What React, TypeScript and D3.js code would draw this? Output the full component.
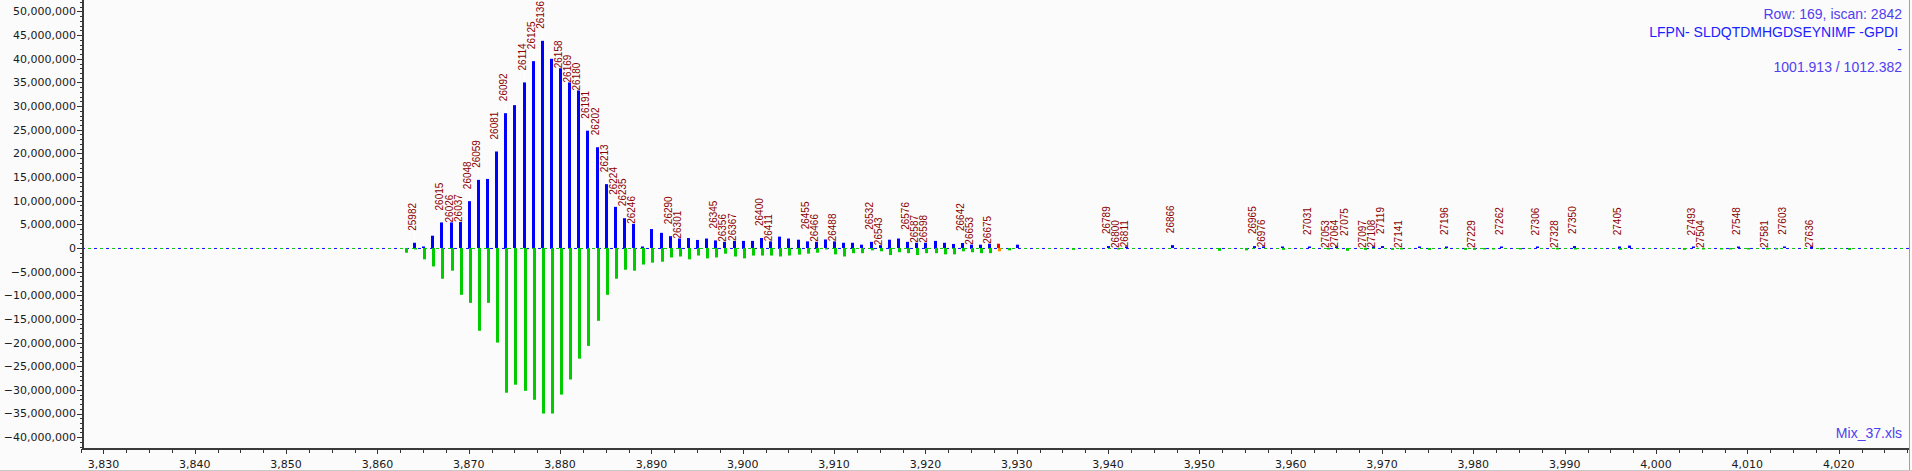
import { useEffect, useRef } from 'react';
import * as d3 from 'd3';

// main envelope, one bar pair per unit
const peakX = [
  3863, 3864, 3865, 3866, 3867, 3868, 3869, 3870, 3871, 3872, 3873, 3874, 3875, 3876, 3877, 3878,
  3879, 3880, 3881, 3882, 3883, 3884, 3885, 3886, 3887, 3888, 3889, 3890, 3891, 3892, 3893, 3894,
  3895, 3896, 3897, 3898, 3899, 3900, 3901, 3902, 3903, 3904, 3905, 3906, 3907, 3908, 3909, 3910,
  3911, 3912, 3913, 3914, 3915, 3916, 3917, 3918, 3919, 3920, 3921, 3922, 3923, 3924, 3925, 3926,
  3927, 3928, 3929, 3930, 3931,
];
const peakBlue = [
  0, 1.1, 0.15, 2.6, 5.4, 5.4, 5.5, 9.9, 14.4, 14.6, 20.4, 28.5, 30.2, 35.0, 39.5, 43.8,
  40.0, 38.0, 35.0, 33.3, 24.8, 21.3, 13.5, 8.7, 6.3, 5.1, 0.1, 4.0, 3.2, 2.5, 2.0, 2.1,
  1.7, 2.0, 1.6, 1.3, 1.5, 1.5, 1.5, 2.1, 1.4, 2.4, 2.0, 1.75, 1.4, 1.3, 1.8, 1.4,
  1.1, 1.1, 0.7, 1.3, 0.6, 1.75, 2.0, 1.3, 1.1, 1.1, 1.5, 1.1, 0.85, 1.05, 0.7, 0.7,
  0.9, 0.9, 0, 0.7, 0,
].map(v => v * 1e6);
const peakGreen = [
  -1.0, -0.1, -2.4, -3.9, -6.5, -4.8, -9.9, -11.6, -17.5, -11.6, -20.0, -30.6, -28.9, -30.2, -32.1, -35.0,
  -35.0, -31.0, -27.8, -23.4, -20.7, -15.4, -9.9, -6.5, -4.6, -4.8, -3.5, -3.1, -2.9, -2.0, -1.8, -2.4,
  -1.6, -2.2, -2.0, -1.2, -1.8, -2.2, -1.6, -1.6, -1.6, -1.8, -1.6, -1.4, -1.2, -1.0, -0.15, -1.35,
  -1.8, -1.1, -1.1, -0.5, -0.7, -1.5, -0.9, -1.1, -1.5, -1.1, -1.1, -1.35, -1.35, -0.7, -0.9, -1.1,
  -1.1, -0.7, -0.5, 0, 0,
].map(v => v * 1e6);
const peakLabels = [
  null, 25982, null, null, 26015, 26026, 26037, 26048, 26059, null, 26081, 26092, null, 26114, 26125, 26136,
  null, 26158, 26169, 26180, 26191, 26202, 26213, 26224, 26235, 26246, null, null, null, 26290, 26301, null,
  null, null, 26345, 26356, 26367, null, null, 26400, 26411, null, null, null, 26455, 26466, null, 26488,
  null, null, null, 26532, 26543, null, null, 26576, 26587, 26598, null, null, null, 26642, 26653, null,
  26675, null, null, null, null,
];
const markedX = 3928;

// sparse tail
const tailX = [
  3936, 3940, 3941, 3942, 3947, 3952, 3955, 3956, 3957, 3959, 3962, 3964, 3965, 3966, 3968, 3969,
  3970, 3971, 3972, 3974, 3975, 3977, 3979, 3980, 3981, 3982, 3983, 3985, 3987, 3989, 3991, 3996,
  3997, 4003, 4004, 4005, 4007, 4008, 4009, 4010, 4012, 4013, 4014, 4017, 4018, 4021,
];
const tailBlue = [
  0, 0.4, 0, 0.15, 0.6, 0, 0, 0.4, 0.15, 0.2, 0.2, 0, 0.1, 0, 0, 0.1,
  0.4, 0, 0, 0.3, 0, 0.2, 0, 0, 0, 0, 0.2, 0, 0.1, 0, 0.4, 0.15,
  0.5, 0, 0.1, 0, 0, 0, 0.2, 0, 0, 0, 0.25, 0.1, 0, 0,
].map(v => v * 1e6);
const tailGreen = [
  -0.4, 0, -0.2, 0, 0, -0.6, -0.5, 0, 0, -0.4, 0, -0.3, 0, -0.6, -0.4, 0,
  0, -0.4, -0.3, 0, -0.4, 0, -0.4, -0.4, -0.3, -0.3, 0, -0.3, 0, -0.3, -0.3, -0.4,
  0, -0.4, 0, -0.3, -0.3, -0.3, 0, -0.3, -0.3, -0.3, 0, 0, -0.3, -0.4,
].map(v => v * 1e6);
const tailLabels = [
  null, 26789, 26800, 26811, 26866, null, null, 26965, 26976, null, 27031, 27053, 27064, 27075, 27097, 27108,
  27119, null, 27141, null, null, 27196, null, 27229, null, null, 27262, null, 27306, 27328, 27350, 27405,
  null, null, 27493, 27504, null, null, 27548, null, 27581, null, 27603, 27636, null, null,
];

const infoLines = ['Row: 169, iscan: 2842', 'LFPN- SLDQTDMHGDSEYNIMF -GPDI ', '-', '1001.913 / 1012.382'];
const fileName = 'Mix_37.xls';

const W = 1912;
const H = 471;

export default function App() {
  const svgRef = useRef<SVGSVGElement>(null);

  useEffect(() => {
    document.body.style.margin = '0';
    if (!svgRef.current) return;
    const svg = d3.select(svgRef.current);
    svg.selectAll('*').remove();

    const left = 82, right = 1909, top = 0, bottom = 449;
    const x = d3.scaleLinear().domain([3827.65, 4027.7]).range([left, right]);
    const y = d3.scaleLinear().domain([-42.5e6, 52.43e6]).range([bottom, top]);
    const y0 = y(0);

    svg.append('rect').attr('width', W).attr('height', H).attr('fill', '#fbfbfb');

    const pts = [
      ...peakX.map((v, i) => ({ x: v, blue: peakBlue[i], green: peakGreen[i], label: peakLabels[i] })),
      ...tailX.map((v, i) => ({ x: v, blue: tailBlue[i], green: tailGreen[i], label: tailLabels[i] })),
    ];

    // zero line, two dashed series
    svg.append('line')
      .attr('x1', left).attr('x2', right).attr('y1', y0 + 0.5).attr('y2', y0 + 0.5)
      .attr('stroke', '#1010ff').attr('stroke-dasharray', '3,9');
    svg.append('line')
      .attr('x1', left).attr('x2', right).attr('y1', y0 + 0.5).attr('y2', y0 + 0.5)
      .attr('stroke', '#10c810').attr('stroke-dasharray', '3,9').attr('stroke-dashoffset', -6);

    // label placement: raised one row, else dropped onto the bar
    const placed: { cx: number; b0: number; b1: number }[] = [];
    const boxW = 32, rowH = 12, slack = 1.5;
    const labels: { cx: number; barTop: number; bottom: number; text: string }[] = [];
    pts.forEach(p => {
      if (p.label == null) return;
      const cx = Math.round(x(p.x));
      const barTop = y(Math.max(p.blue, 0));
      const hits = (b0: number, b1: number) =>
        placed.some(q => Math.abs(q.cx - cx) < boxW && b0 < q.b1 - slack && q.b0 < b1 - slack);
      let bottom = barTop - rowH;
      if (hits(bottom - rowH, bottom)) bottom = barTop;
      placed.push({ cx, b0: bottom - rowH, b1: bottom });
      labels.push({ cx, barTop, bottom, text: String(p.label) });
    });

    svg.append('g').selectAll('line')
      .data(labels.filter(l => l.bottom < l.barTop))
      .enter().append('line')
      .attr('x1', d => d.cx + 0.5).attr('x2', d => d.cx + 0.5)
      .attr('y1', d => d.bottom).attr('y2', d => d.barTop)
      .attr('stroke', '#ffffff');

    const h = (v: number) => {
      const px = Math.abs(y(v) - y0);
      return v === 0 ? 0 : Math.max(px, 1.5);
    };

    svg.append('g').selectAll('rect')
      .data(pts.filter(p => p.green !== 0))
      .enter().append('rect')
      .attr('x', d => Math.round(x(d.x)))
      .attr('width', 3)
      .attr('y', d => (d.green < 0 ? y0 : y0 - h(d.green)))
      .attr('height', d => h(d.green))
      .attr('fill', d => (d.x === markedX ? '#ff8c00' : '#00cc00'));

    svg.append('g').selectAll('rect')
      .data(pts.filter(p => p.blue !== 0))
      .enter().append('rect')
      .attr('x', d => Math.round(x(d.x)) - 1)
      .attr('width', 3)
      .attr('y', d => y0 - h(d.blue))
      .attr('height', d => h(d.blue))
      .attr('fill', d => (d.x === markedX ? '#ff0000' : '#0000ff'));

    svg.append('g').selectAll('text')
      .data(labels)
      .enter().append('text')
      .attr('transform', d => `translate(${d.cx + 1.5},${d.bottom}) rotate(-90)`)
      .attr('font-family', '"Liberation Sans", Arial, sans-serif')
      .attr('font-size', 10)
      .attr('fill', '#8b0000')
      .text(d => d.text);

    // axes
    const fmt = d3.format(',');
    const axisFont = '"DejaVu Sans", Verdana, sans-serif';
    const yMinor = d3.range(-42e6, 52.5e6, 1e6);
    const yMajor = d3.range(-40e6, 50.5e6, 5e6);
    svg.append('g').selectAll('line').data(yMinor).enter().append('line')
      .attr('x1', d => (yMajor.includes(d) ? left - 5 : left - 2)).attr('x2', left)
      .attr('y1', d => Math.round(y(d)) + 0.5).attr('y2', d => Math.round(y(d)) + 0.5)
      .attr('stroke', '#333');
    svg.append('g').selectAll('text').data(yMajor).enter().append('text')
      .attr('x', left - 6).attr('y', d => y(d)).attr('dy', '0.36em')
      .attr('text-anchor', 'end')
      .attr('font-family', axisFont).attr('font-size', 11).attr('fill', '#1a1a1a')
      .text(d => fmt(d));

    const xMinor = d3.range(3827.5, 4028, 2.5);
    const xMajor = d3.range(3830, 4021, 10);
    svg.append('g').selectAll('line').data(xMinor).enter().append('line')
      .attr('x1', d => Math.round(x(d)) + 0.5).attr('x2', d => Math.round(x(d)) + 0.5)
      .attr('y1', bottom).attr('y2', d => (d % 10 === 0 ? bottom + 5 : bottom + 4))
      .attr('stroke', '#333');
    svg.append('g').selectAll('text').data(xMajor).enter().append('text')
      .attr('x', d => x(d)).attr('y', 468)
      .attr('text-anchor', 'middle')
      .attr('font-family', axisFont).attr('font-size', 11).attr('fill', '#1a1a1a')
      .text(d => fmt(d));

    svg.append('line').attr('x1', left + 1).attr('x2', left + 1).attr('y1', top).attr('y2', bottom + 1)
      .attr('stroke', '#3a3a3a').attr('stroke-width', 2);
    svg.append('line').attr('x1', left).attr('x2', right + 1).attr('y1', bottom).attr('y2', bottom)
      .attr('stroke', '#3a3a3a').attr('stroke-width', 2);
    svg.append('line').attr('x1', right + 0.5).attr('x2', right + 0.5).attr('y1', 0).attr('y2', H)
      .attr('stroke', '#a0a0a0');
    svg.append('line').attr('x1', 0).attr('x2', W).attr('y1', H - 0.5).attr('y2', H - 0.5)
      .attr('stroke', '#c8c8c8');

    // info block
    const infoFont = '"Liberation Sans", Arial, sans-serif';
    const infoColors = ['#5040f0', '#1a22ff', '#1a22ff', '#5040f0'];
    svg.append('g').selectAll('text').data(infoLines).enter().append('text')
      .attr('x', 1902).attr('y', (d, i) => 19 + i * 17.6)
      .attr('text-anchor', 'end')
      .attr('font-family', infoFont).attr('font-size', 14)
      .attr('fill', (d, i) => infoColors[i])
      .attr('xml:space', 'preserve')
      .style('white-space', 'pre')
      .text(d => d);
    svg.append('text')
      .attr('x', 1902).attr('y', 438).attr('text-anchor', 'end')
      .attr('font-family', infoFont).attr('font-size', 14).attr('fill', '#5040f0')
      .text(fileName);
  }, []);

  return (
    <div style={{ position: 'absolute', left: 0, top: 0 }}>
      <svg ref={svgRef} width={W} height={H} style={{ display: 'block' }}></svg>
    </div>
  );
}
